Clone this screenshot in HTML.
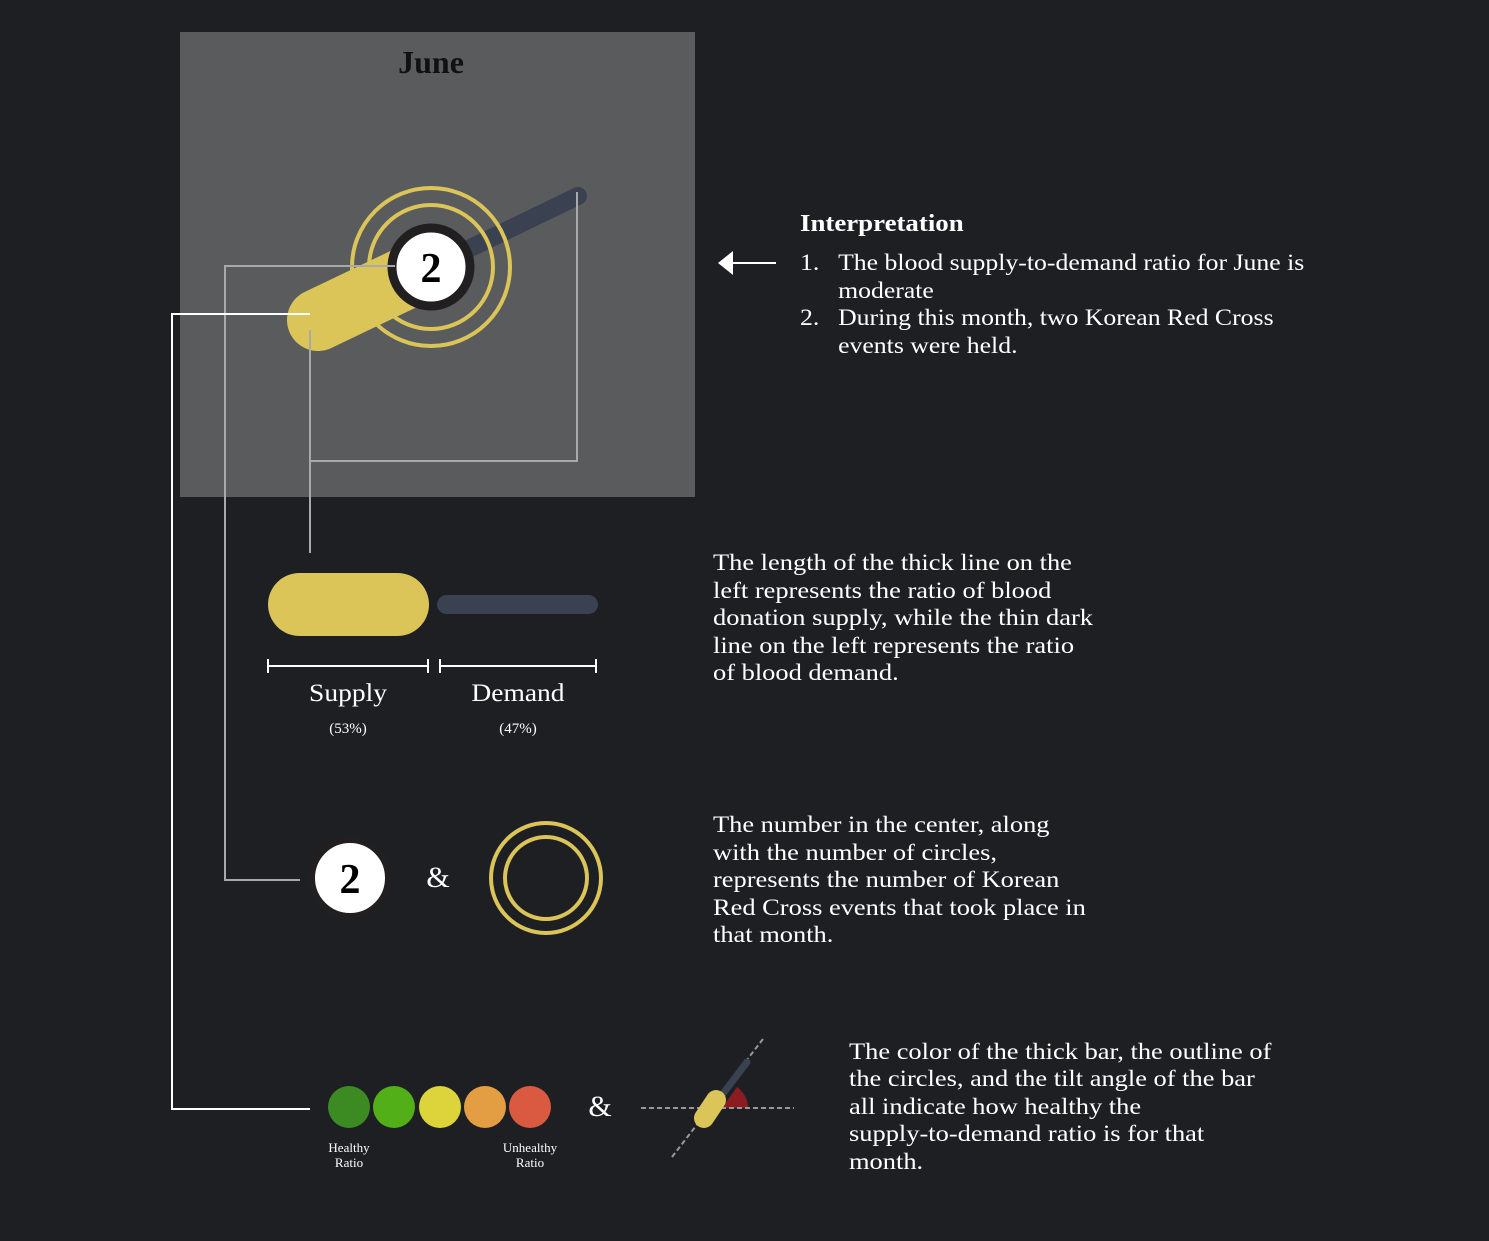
<!DOCTYPE html>
<html><head><meta charset="utf-8"><style>
body{margin:0;background:#1e1f23;}
svg{display:block}
text{font-family:"Liberation Serif","DejaVu Serif",serif;fill:#fff}
</style></head><body>
<svg width="1489" height="1241" viewBox="0 0 1489 1241">
<rect width="1489" height="1241" fill="#1e1f23"/>
<rect x="180" y="32" width="515" height="465" fill="#5a5b5d"/>
<text x="431" y="73" text-anchor="middle" font-size="32" font-weight="bold" style="fill:#111">June</text>
<line x1="431" y1="267" x2="578" y2="196" stroke="#3a4150" stroke-width="18" stroke-linecap="round"/>
<circle cx="431" cy="267" r="79" fill="none" stroke="#dbc558" stroke-width="4"/>
<circle cx="431" cy="267" r="62" fill="none" stroke="#dbc558" stroke-width="4"/>
<line x1="318" y1="320" x2="410" y2="276" stroke="#dbc558" stroke-width="62" stroke-linecap="round"/>
<circle cx="431" cy="267" r="39" fill="#fff" stroke="#221f20" stroke-width="9"/>
<text x="431" y="282" text-anchor="middle" font-size="42" font-weight="bold" style="fill:#000">2</text>
<polyline points="395,266 225,266 225,880 300,880" fill="none" stroke="#a9a9a9" stroke-width="2"/>
<polyline points="310,330 310,553" fill="none" stroke="#a9a9a9" stroke-width="2"/>
<polyline points="310,461 577,461 577,192" fill="none" stroke="#a9a9a9" stroke-width="2"/>
<polyline points="310,314 172,314 172,1109 310,1109" fill="none" stroke="#fff" stroke-width="2"/>
<line x1="730" y1="263" x2="776" y2="263" stroke="#fff" stroke-width="2"/>
<polygon points="718,263 733,251 733,275" fill="#fff"/>
<g transform="translate(800,0) scale(1.12,1) translate(-800,0)">
<text x="800" y="231" font-size="24" font-weight="bold">Interpretation</text>
<g font-size="23">
<text x="800" y="270">1.</text><text x="834" y="270">The blood supply-to-demand ratio for June is</text>
<text x="834" y="298">moderate</text>
<text x="800" y="325">2.</text><text x="834" y="325">During this month, two Korean Red Cross</text>
<text x="834" y="353">events were held.</text>
</g></g>
<rect x="268" y="573" width="161" height="63" rx="31.5" fill="#dbc558"/>
<rect x="437" y="595" width="161" height="19" rx="9.5" fill="#3a4150"/>
<g stroke="#fff" stroke-width="2">
<line x1="268" y1="666" x2="428" y2="666"/><line x1="268" y1="659" x2="268" y2="673"/><line x1="428" y1="659" x2="428" y2="673"/>
<line x1="440" y1="666" x2="596" y2="666"/><line x1="440" y1="659" x2="440" y2="673"/><line x1="596" y1="659" x2="596" y2="673"/>
</g>
<text x="348" y="701" text-anchor="middle" font-size="25" transform="translate(348,0) scale(1.1,1) translate(-348,0)">Supply</text>
<text x="518" y="701" text-anchor="middle" font-size="25" transform="translate(518,0) scale(1.1,1) translate(-518,0)">Demand</text>
<text x="348" y="733" text-anchor="middle" font-size="15">(53%)</text>
<text x="518" y="733" text-anchor="middle" font-size="15">(47%)</text>
<g font-size="23" transform="translate(713,0) scale(1.15,1) translate(-713,0)">
<text x="713" y="570">The length of the thick line on the</text>
<text x="713" y="598">left represents the ratio of blood</text>
<text x="713" y="625">donation supply, while the thin dark</text>
<text x="713" y="653">line on the left represents the ratio</text>
<text x="713" y="680">of blood demand.</text>
</g>
<circle cx="350" cy="878" r="38" fill="#fff" stroke="#221f20" stroke-width="6"/>
<text x="350" y="893" text-anchor="middle" font-size="42" font-weight="bold" style="fill:#000">2</text>
<text x="438" y="887" text-anchor="middle" font-size="30">&amp;</text>
<circle cx="546" cy="878" r="55" fill="none" stroke="#dbc558" stroke-width="4"/>
<circle cx="546" cy="878" r="41" fill="none" stroke="#dbc558" stroke-width="4"/>
<g font-size="23" transform="translate(713,0) scale(1.15,1) translate(-713,0)">
<text x="713" y="832">The number in the center, along</text>
<text x="713" y="860">with the number of circles,</text>
<text x="713" y="887">represents the number of Korean</text>
<text x="713" y="915">Red Cross events that took place in</text>
<text x="713" y="942">that month.</text>
</g>
<circle cx="349" cy="1107" r="21" fill="#3c8a22"/>
<circle cx="394" cy="1107" r="21" fill="#52af17"/>
<circle cx="440" cy="1107" r="21" fill="#ddd43b"/>
<circle cx="485" cy="1107" r="21" fill="#e39e44"/>
<circle cx="530" cy="1107" r="21" fill="#d95a40"/>
<text x="349" y="1152" text-anchor="middle" font-size="13">Healthy</text>
<text x="349" y="1167" text-anchor="middle" font-size="13">Ratio</text>
<text x="530" y="1152" text-anchor="middle" font-size="13">Unhealthy</text>
<text x="530" y="1167" text-anchor="middle" font-size="13">Ratio</text>
<text x="600" y="1116" text-anchor="middle" font-size="30">&amp;</text>
<path d="M722,1108 L748,1108 A26,26 0 0 0 737,1087 Z" fill="#8a1c22"/>
<line x1="641" y1="1108" x2="794" y2="1108" stroke="#999" stroke-width="2" stroke-dasharray="5,3"/>
<line x1="672" y1="1157" x2="763" y2="1039" stroke="#999" stroke-width="2" stroke-dasharray="5,3"/>
<line x1="722" y1="1095" x2="747" y2="1062" stroke="#3a4150" stroke-width="7" stroke-linecap="round"/>
<line x1="704" y1="1118" x2="716" y2="1100" stroke="#dbc558" stroke-width="20" stroke-linecap="round"/>
<g font-size="23" transform="translate(849,0) scale(1.15,1) translate(-849,0)">
<text x="849" y="1059">The color of the thick bar, the outline of</text>
<text x="849" y="1086">the circles, and the tilt angle of the bar</text>
<text x="849" y="1114">all indicate how healthy the</text>
<text x="849" y="1141">supply-to-demand ratio is for that</text>
<text x="849" y="1169">month.</text>
</g>
</svg>
</body></html>
